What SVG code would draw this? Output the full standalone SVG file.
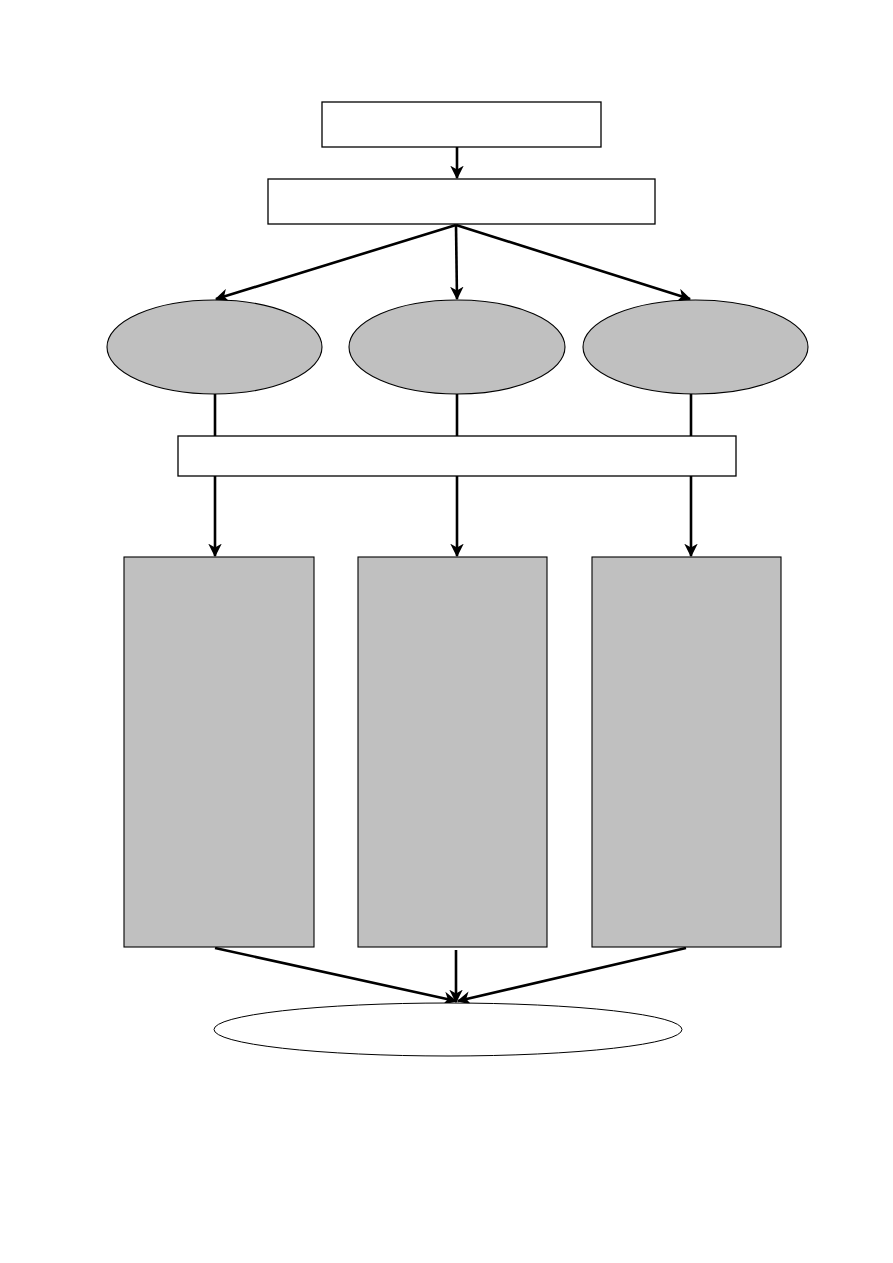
<svg xmlns="http://www.w3.org/2000/svg" width="893" height="1263" viewBox="0 0 893 1263">
<style>
.box{fill:#fff;stroke:#000;stroke-width:1.3}
.gray{fill:#c0c0c0;stroke:#000;stroke-width:1.1}
.wel{fill:#fff;stroke:#000;stroke-width:1}
.ln{stroke:#000;stroke-width:2.6;fill:none}
.ar{stroke:#000;stroke-width:2.6;fill:none;marker-end:url(#ah)}
</style>
<defs>
<marker id="ah" viewBox="0 0 12 12" refX="11" refY="6" markerWidth="5.2" markerHeight="5.4" orient="auto" markerUnits="strokeWidth">
<path d="M0,0 L12,6 L0,12 L3.5,6 Z" fill="#000"/>
</marker>
</defs>
<rect width="893" height="1263" fill="#fff"/>
<g id="connectors">
<line class="ar" x1="457" y1="147" x2="457" y2="178"/>
<line class="ar" x1="456" y1="225" x2="216" y2="299"/>
<line class="ar" x1="456" y1="225" x2="457" y2="299"/>
<line class="ar" x1="456" y1="225" x2="690" y2="299"/>
<line class="ln" x1="215" y1="394" x2="215" y2="436"/>
<line class="ln" x1="457" y1="394" x2="457" y2="436"/>
<line class="ln" x1="691" y1="394" x2="691" y2="436"/>
<line class="ar" x1="215" y1="476" x2="215" y2="556"/>
<line class="ar" x1="457" y1="476" x2="457" y2="556"/>
<line class="ar" x1="691" y1="476" x2="691" y2="556"/>
<line class="ar" x1="215" y1="948" x2="456" y2="1001"/>
<line class="ar" x1="456" y1="950" x2="456" y2="1002"/>
<line class="ar" x1="686" y1="948" x2="458" y2="1001"/>
</g>
<g id="n1"><rect class="box" x="322" y="102" width="279" height="45"/></g>
<g id="n2"><rect class="box" x="268" y="179" width="387" height="45"/></g>
<g id="e1"><ellipse class="gray" cx="214.5" cy="347" rx="107.5" ry="47"/></g>
<g id="e2"><ellipse class="gray" cx="457" cy="347" rx="108" ry="47"/></g>
<g id="e3"><ellipse class="gray" cx="695.5" cy="347" rx="112.5" ry="47"/></g>
<g id="bar"><rect class="box" x="178" y="436" width="558" height="40"/></g>
<g id="c1"><rect class="gray" x="124" y="557" width="190" height="390"/></g>
<g id="c2"><rect class="gray" x="358" y="557" width="189" height="390"/></g>
<g id="c3"><rect class="gray" x="592" y="557" width="189" height="390"/></g>
<g id="end"><ellipse class="wel" cx="448" cy="1029.5" rx="234" ry="26.5"/></g>
</svg>
